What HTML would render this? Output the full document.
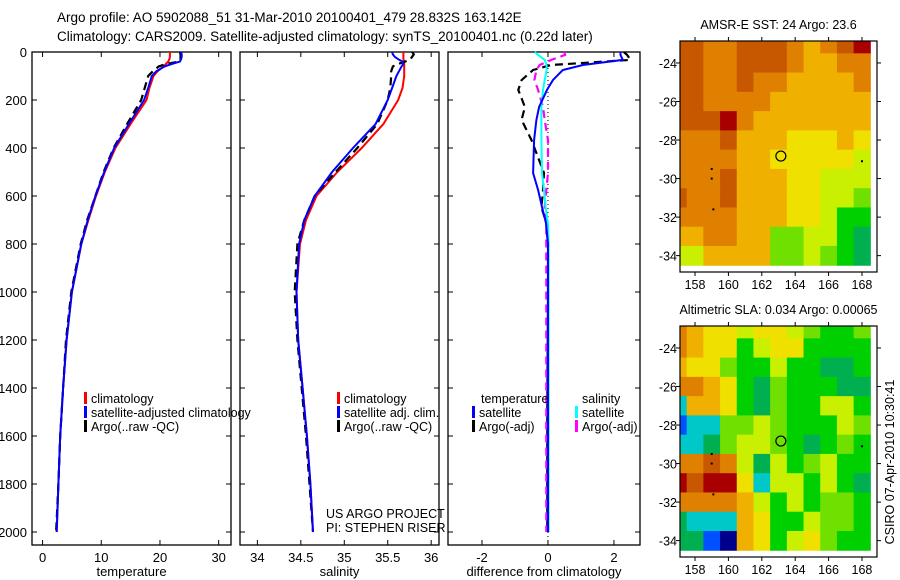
<!DOCTYPE html>
<html><head><meta charset="utf-8"><style>
body{margin:0;background:#fff;}
svg{display:block;font-family:"Liberation Sans",sans-serif;}
</style></head><body>
<svg id="fig" width="900" height="580" viewBox="0 0 900 580">
<text x="57" y="22" font-size="13.5">Argo profile: AO 5902088_51 31-Mar-2010 20100401_479 28.832S 163.142E</text>
<text x="57" y="41" font-size="13.5">Climatology: CARS2009. Satellite-adjusted climatology: synTS_20100401.nc (0.22d later)</text>
<g id="plots"></g>
</svg>
<script>
// ---- profile data ----
const depths = [0,10,20,30,40,50,60,80,100,150,200,300,400,500,600,700,800,1000,1200,1400,1600,1800,2000];
const tempClim = [21.7,21.7,21.7,21.6,21.4,21.0,20.6,19.6,18.9,18.2,17.7,15.0,12.4,10.6,9.1,7.8,6.6,5.0,4.1,3.5,3.0,2.7,2.4];
const tempSat = [23.6,23.7,23.7,23.6,23.4,22.0,20.8,19.4,18.6,18.0,17.3,14.7,12.2,10.5,9.0,7.7,6.6,5.0,4.1,3.5,3.0,2.7,2.4];
const tempArgo = [23.4,23.5,23.5,23.5,23.3,21.0,19.8,18.8,18.0,17.4,16.8,14.4,12.1,10.4,9.0,7.6,6.5,4.9,4.0,3.5,3.0,2.7,2.3];
const salClim = [35.68,35.68,35.68,35.68,35.69,35.69,35.69,35.69,35.69,35.67,35.62,35.45,35.2,34.92,34.68,34.56,34.49,34.45,34.47,34.52,34.57,34.61,34.64];
const salSat = [35.55,35.56,35.58,35.62,35.67,35.68,35.66,35.63,35.6,35.55,35.5,35.36,35.1,34.86,34.66,34.54,34.48,34.45,34.47,34.52,34.57,34.61,34.64];
const salArgo = [35.78,35.8,35.78,35.76,35.7,35.62,35.56,35.54,35.54,35.53,35.5,35.38,35.15,34.9,34.66,34.54,34.46,34.43,34.46,34.51,34.56,34.6,34.64];
const diffDepths = [0,12,33,54,75,117,158,229,283,367,504,575,646,713,800,1000,1500,2000];
const tempSatDiff = [2.2,2.2,2.27,1.06,0.45,0.15,-0.03,-0.27,-0.35,-0.42,-0.45,-0.3,-0.18,-0.06,0,0,0,0];
const tempArgoDiff = [2.3,2.4,2.5,0.1,-0.45,-0.8,-0.9,-0.7,-0.8,-0.5,-0.12,-0.15,-0.2,-0.05,0,0,-0.02,-0.02];
const salSatDiff = [-0.4,-0.3,-0.1,-0.04,-0.04,-0.1,-0.15,-0.2,-0.2,-0.2,-0.18,-0.12,-0.07,0,0.02,0.02,0.02,0.02];
const salArgoDiff = [0.5,0.52,0.1,-0.25,-0.35,-0.41,-0.3,-0.15,-0.1,0,0,-0.05,-0.1,-0.05,-0.05,-0.05,-0.05,-0.05];
const depthTicks = [0,200,400,600,800,1000,1200,1400,1600,1800,2000];
const tempTicks = [0,10,20,30];
const salTicks = [34,34.5,35,35.5,36];
const diffTicks = [-2,0,2];
// ---- map data (palette index per 1-degree cell, rows lat 23..34, cols lon 157..168) ----
const lons = [157,158,159,160,161,162,163,164,165,166,167,168];
const lats = [23,24,25,26,27,28,29,30,31,32,33,34];
const sstGrid = [
[10,10,9,9,10,10,10,9,8,9,10,11],
[10,10,9,9,10,10,10,9,8,8,9,9],
[10,10,9,9,10,9,9,8,8,8,8,9],
[10,10,9,9,9,9,8,8,8,8,8,8],
[10,10,10,11,9,8,8,8,8,8,8,8],
[9,9,9,10,8,8,8,7,7,7,8,7],
[9,9,9,9,8,8,7,7,7,7,7,6],
[9,9,9,10,8,8,8,7,7,6,6,6],
[10,9,9,10,8,8,8,7,7,6,6,5],
[9,9,9,9,8,8,8,7,7,6,4,4],
[8,8,9,9,8,8,5,5,6,6,4,3],
[6,6,8,8,8,8,5,5,6,5,4,3]];
const slaGrid = [
[9,8,7,7,6,7,7,6,5,4,4,5],
[9,8,7,7,4,6,7,7,4,4,4,4],
[8,7,7,5,4,4,6,4,4,3,3,4],
[9,9,8,7,4,3,5,4,4,4,3,3],
[2,8,8,7,4,3,5,4,4,6,6,4],
[1,2,2,5,5,6,5,4,4,4,6,5],
[2,2,3,5,6,6,5,4,3,4,5,4],
[9,9,10,9,6,3,6,4,5,6,4,4],
[11,10,11,11,7,2,6,6,4,6,4,3],
[9,9,9,9,8,6,4,6,4,5,5,4],
[3,2,2,2,8,7,4,4,6,5,5,4],
[3,3,1,0,8,7,4,6,7,5,4,4]];
const latTicks = [24,26,28,30,32,34];
const lonTicks = [158,160,162,164,166,168];
const floatLon = [163.142];
const floatLat = [28.832];

const palette = ['#00008c','#0050ff','#00c8c8','#00b050','#00d000','#70e000','#c8f000','#f0e000','#f0b000','#e08000','#c85800','#a80000'];
const NS = 'http://www.w3.org/2000/svg';
const root = document.getElementById('plots');
function mk(tag, attrs, parent){const e=document.createElementNS(NS,tag);for(const k in attrs)e.setAttribute(k,attrs[k]);(parent||root).appendChild(e);return e;}

const yTop=52, yBot=532;
const yD = d => yTop + (yBot-yTop)*d/2000;

function panel(name, x0, x1, vmin, vmax, ticks, label, showY){
  const sx = v => x0 + (x1-x0)*(v-vmin)/(vmax-vmin);
  const g = mk('g',{});
  
  
  const r = mk('rect',{x:x0,y:yTop,width:x1-x0,height:545-yTop,fill:'none',stroke:'#000','stroke-width':1.3},g);
  
  
  depthTicks.forEach(d=>{
    mk('line',{x1:x0,x2:x0+5,y1:yD(d),y2:yD(d),stroke:'#000'},g);
    mk('line',{x1:x1,x2:x1-5,y1:yD(d),y2:yD(d),stroke:'#000'},g);
    if(showY){const t=mk('text',{x:x0-5,y:yD(d)+5,'font-size':13,'text-anchor':'end'},g);t.textContent=d;
      
      }
  });
  ticks.forEach(v=>{
    mk('line',{x1:sx(v),x2:sx(v),y1:545,y2:540,stroke:'#000'},g);
    mk('line',{x1:sx(v),x2:sx(v),y1:yTop,y2:yTop+5,stroke:'#000'},g);
    const t=mk('text',{x:sx(v),y:562,'font-size':13,'text-anchor':'middle'},g);t.textContent=v;
    
    
  });
  const lt=mk('text',{x:(x0+x1)/2,y:576,'font-size':13,'text-anchor':'middle'},g);lt.textContent=label;
  
  
  return {g,sx};
}
function line(p, ds, vs, color, dash, w, nm){
  const pts = vs.map((v,i)=>p.sx(v).toFixed(1)+','+yD(ds[i]).toFixed(1)).join(' ');
  const l=mk('polyline',{points:pts,fill:'none',stroke:color,'stroke-width':w||2,'stroke-dasharray':dash||'none'},p.g);
  
  
}
function legendRow(g,x,y,color,text,nm){
  mk('rect',{x:x,y:y-11,width:3,height:12,fill:color},g);
  const t=mk('text',{x:x+7,y:y,'font-size':12.5},g);t.textContent=text;
  
  
}

const p1 = panel('temperature-panel',32,231,-1.8,32.1,tempTicks,'temperature',true);
line(p1,depths,tempClim,'#ff0000',null,2,'temp-climatology-line');
line(p1,depths,tempArgo,'#000000','8 5',2.2,'temp-argo-line');
line(p1,depths,tempSat,'#0000ff',null,2,'temp-satellite-line');
legendRow(p1.g,84,403,'#ff0000','climatology','legend-climatology');
legendRow(p1.g,84,417,'#0000ff','satellite-adjusted climatology','legend-satellite');
legendRow(p1.g,84,431,'#000000','Argo(..raw -QC)','legend-argo');

const p2 = panel('salinity-panel',240,439,33.8,36.09,salTicks,'salinity',false);
line(p2,depths,salClim,'#ff0000',null,2,'sal-climatology-line');
line(p2,depths,salArgo,'#000000','8 5',2.2,'sal-argo-line');
line(p2,depths,salSat,'#0000ff',null,2,'sal-satellite-line');
legendRow(p2.g,337,403,'#ff0000','climatology','legend-climatology-sal');
legendRow(p2.g,337,417,'#0000ff','satellite adj. clim.','legend-satellite-sal');
legendRow(p2.g,337,431,'#000000','Argo(..raw -QC)','legend-argo-sal');
const c1=mk('text',{x:326,y:518,'font-size':12.5},p2.g);c1.textContent='US ARGO PROJECT';


const c2=mk('text',{x:326,y:532,'font-size':12.5},p2.g);c2.textContent='PI: STEPHEN RISER';



const p3 = panel('difference-panel',448,640,-3.03,2.79,diffTicks,'difference from climatology',false);
mk('line',{x1:p3.sx(0),x2:p3.sx(0),y1:yTop,y2:545,stroke:'#000','stroke-dasharray':'1 3'},p3.g);
line(p3,diffDepths,tempArgoDiff,'#000000','8 5',2.2,'temp-argo-diff-line');
line(p3,diffDepths,salArgoDiff,'#ff00ff','8 5',2.2,'sal-argo-diff-line');
line(p3,diffDepths,salSatDiff,'#00ffff',null,2,'sal-satellite-diff-line');
line(p3,diffDepths,tempSatDiff,'#0000ff',null,2,'temp-satellite-diff-line');
const h1=mk('text',{x:481,y:403,'font-size':12.5},p3.g);h1.textContent='temperature';


const h2=mk('text',{x:582,y:403,'font-size':12.5},p3.g);h2.textContent='salinity';


legendRow(p3.g,472,417,'#0000ff','satellite','legend-temp-satellite');
legendRow(p3.g,472,431,'#000000','Argo(-adj)','legend-temp-argo');
legendRow(p3.g,575,417,'#00ffff','satellite','legend-sal-satellite');
legendRow(p3.g,575,431,'#ff00ff','Argo(-adj)','legend-sal-argo');

function map(name, grid, top, title){
  const x0=680,x1=877,y1=top+231;
  const lonMin=157.1,lonMax=168.9,latMin=22.86,latMax=34.85;
  const sx=v=>x0+(x1-x0)*(v-lonMin)/(lonMax-lonMin);
  const sy=v=>top+(y1-top)*(v-latMin)/(latMax-latMin);
  const g=mk('g',{});
  
  
  grid.forEach((row,i)=>row.forEach((v,j)=>{
    const xa=Math.max(x0,sx(lons[j]-0.5)), xb=Math.min(x1,sx(lons[j]+0.5));
    const ya=Math.max(top,sy(lats[i]-0.5)), yb=Math.min(y1,sy(lats[i]+0.5));
    const c=mk('rect',{x:xa,y:ya,width:xb-xa+0.5,height:yb-ya+0.5,fill:palette[v]},g);
    
    
  }));
  mk('rect',{x:x0,y:top,width:x1-x0,height:y1-top,fill:'none',stroke:'#000','stroke-width':1.2},g);
  latTicks.forEach(v=>{
    mk('line',{x1:x0-4,x2:x0,y1:sy(v),y2:sy(v),stroke:'#000'},g);
    mk('line',{x1:x1,x2:x1+4,y1:sy(v),y2:sy(v),stroke:'#000'},g);
    const t=mk('text',{x:x0-3,y:sy(v)+5,'font-size':12.5,'text-anchor':'end'},g);t.textContent='-'+v;
    
    
  });
  lonTicks.forEach(v=>{
    mk('line',{x1:sx(v),x2:sx(v),y1:top-4,y2:top,stroke:'#000'},g);
    mk('line',{x1:sx(v),x2:sx(v),y1:y1,y2:y1+4,stroke:'#000'},g);
    const t=mk('text',{x:sx(v),y:y1+17,'font-size':12.5,'text-anchor':'middle'},g);t.textContent=v;
    
    
  });
  const tt=mk('text',{x:(x0+x1)/2,y:top-12,'font-size':12.5,'text-anchor':'middle'},g);tt.textContent=title;
  
  
  const ci=mk('circle',{cx:sx(floatLon[0]),cy:sy(floatLat[0]),r:5,fill:'none',stroke:'#000','stroke-width':1.2},g);
  
  
  [[159,29.5],[159,30],[159.1,31.6],[168,29.1]].forEach(p=>mk('rect',{x:sx(p[0])-1,y:sy(p[1])-1,width:2,height:2,fill:'#000'},g));
}
map('sst-map',sstGrid,41,'AMSR-E SST: 24 Argo: 23.6');
map('sla-map',slaGrid,326,'Altimetric SLA: 0.034 Argo: 0.00065');
const cs=mk('text',{x:0,y:0,'font-size':12.5,'text-anchor':'middle',transform:'translate(894,462) rotate(-90)'});
cs.textContent='CSIRO 07-Apr-2010 10:30:41';


</script>
</body></html>
